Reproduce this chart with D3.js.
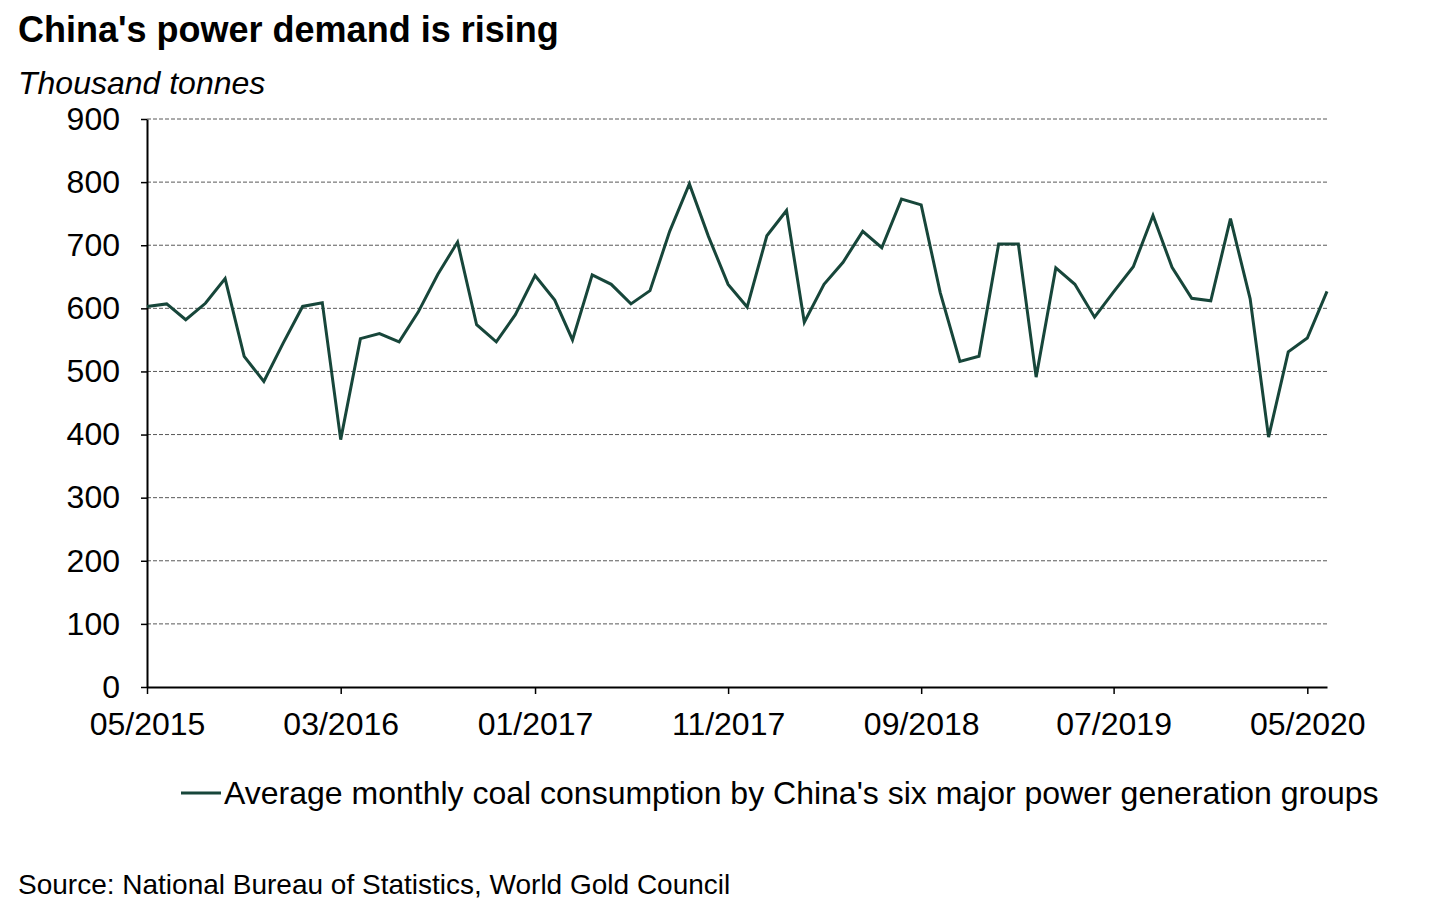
<!DOCTYPE html>
<html>
<head>
<meta charset="utf-8">
<script src="https://cdn.jsdelivr.net/npm/d3@7"></script>
<style>
body { margin: 0; background: #fff; }
svg { font-family: "Liberation Sans", Arial, sans-serif; }
.grid line { stroke: #595959; stroke-width: 1; stroke-dasharray: 4,2; }
</style>
</head>
<body>
<svg id="chart" width="1441" height="918"></svg>
<script>
// monthly values, 05/2015 .. 06/2020 (thousand tonnes)
const startMonth = "2015-05"
const coalValues = [
  603, 607, 582, 608, 647, 524, 484, 544, 603, 609,
  392, 552, 560, 547, 594, 654, 705, 574, 547, 590,
  652, 613, 550, 653, 638, 607, 628, 722, 797, 714,
  638, 602, 715, 755, 578, 638, 673, 722, 696, 773,
  764, 625, 516, 524, 702, 702, 491, 664, 638, 586,
  626, 666, 747, 665, 616, 612, 742, 615, 396, 531,
  553, 627
]
const xTickLabels = ["05/2015", "03/2016", "01/2017", "11/2017", "09/2018", "07/2019", "05/2020"]
const yTicks = [0, 100, 200, 300, 400, 500, 600, 700, 800, 900]

const parseMonth = d3.timeParse("%Y-%m")
const fmtMonth = d3.timeFormat("%m/%Y")
const parseLabel = d3.timeParse("%m/%Y")
const start = parseMonth(startMonth)
const data = coalValues.map(function(v, i) { return {date: d3.timeMonth.offset(start, i), value: v} })

const plotLeft = 147, plotRight = 1327, plotTop = 119, plotBottom = 687

const svg = d3.select("#chart")

const x = d3.scaleTime()
    .domain([data[0].date, data[data.length - 1].date])
    .range([plotLeft, plotRight])
const y = d3.scaleLinear()
    .domain([0, 900])
    .range([plotBottom, plotTop])

// title + unit
svg.append("text")
    .attr("x", 18).attr("y", 42)
    .attr("font-size", 36).attr("font-weight", "bold")
    .text("China's power demand is rising")
svg.append("text")
    .attr("x", 18).attr("y", 94)
    .attr("font-size", 32).attr("font-style", "italic")
    .text("Thousand tonnes")

// gridlines
svg.append("g").attr("class", "grid")
  .selectAll("line")
  .data(yTicks.filter(function(d) { return d > 0 }))
  .enter().append("line")
    .attr("x1", plotLeft).attr("x2", plotRight)
    .attr("y1", function(d) { return y(d) })
    .attr("y2", function(d) { return y(d) })

// y axis
const yAxis = svg.append("g")
    .attr("transform", "translate(" + plotLeft + ",0)")
    .call(d3.axisLeft(y).tickValues(yTicks).tickSize(6).tickSizeOuter(0).tickPadding(21))
yAxis.select(".domain").attr("stroke", "#000").attr("stroke-width", 2)
yAxis.selectAll(".tick line").attr("stroke", "#000").attr("stroke-width", 1.5)
yAxis.selectAll(".tick text")
    .attr("font-size", 32).attr("fill", "#000")
    .attr("font-family", "Liberation Sans, Arial, sans-serif")

// x axis
const xAxis = svg.append("g")
    .attr("transform", "translate(0," + plotBottom + ")")
    .call(d3.axisBottom(x)
        .tickValues(xTickLabels.map(parseLabel))
        .tickFormat(fmtMonth)
        .tickSize(7).tickSizeOuter(0).tickPadding(18))
xAxis.select(".domain").attr("stroke", "#000").attr("stroke-width", 2)
xAxis.selectAll(".tick line").attr("stroke", "#000").attr("stroke-width", 1.5)
xAxis.selectAll(".tick text")
    .attr("font-size", 32).attr("fill", "#000")
    .attr("font-family", "Liberation Sans, Arial, sans-serif")

// the series
const line = d3.line()
    .x(function(d) { return x(d.date) })
    .y(function(d) { return y(d.value) })
svg.append("path")
    .datum(data)
    .attr("fill", "none")
    .attr("stroke", "#17463a")
    .attr("stroke-width", 3)
    .attr("stroke-linejoin", "miter")
    .attr("d", line)

// legend
svg.append("line")
    .attr("x1", 181).attr("x2", 221)
    .attr("y1", 793).attr("y2", 793)
    .attr("stroke", "#17463a").attr("stroke-width", 3)
svg.append("text")
    .attr("x", 224).attr("y", 804)
    .attr("font-size", 32)
    .text("Average monthly coal consumption by China's six major power generation groups")

// source
svg.append("text")
    .attr("x", 18).attr("y", 894)
    .attr("font-size", 28)
    .text("Source: National Bureau of Statistics, World Gold Council")
</script>
</body>
</html>
